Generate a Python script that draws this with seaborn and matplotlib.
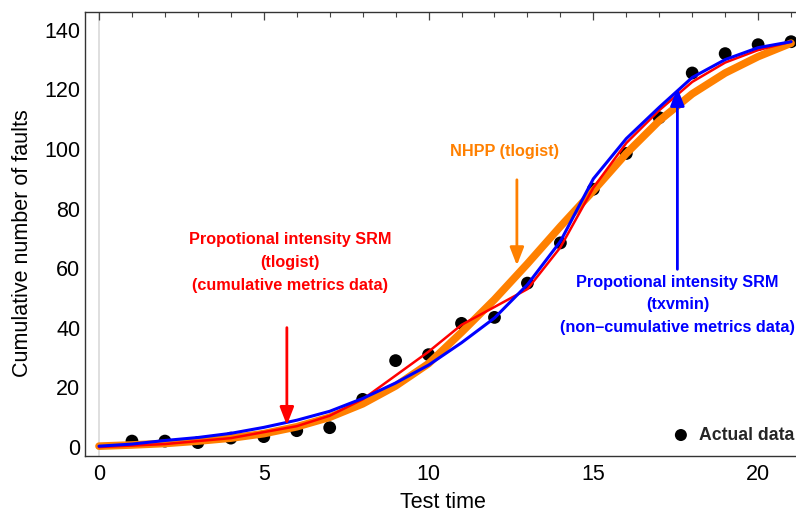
"""
Cumulative number of faults vs test time: actual data and three fitted SRMs.
"""

# Importing required packages
import numpy as np
import pandas as pd
import seaborn as sns
import matplotlib
matplotlib.use("Agg")
import matplotlib.pyplot as plt
from matplotlib.ticker import MultipleLocator

# Data
test_time = list(range(0, 22))
actual_time = list(range(1, 22))
actual_faults = [2, 2, 1.5, 3, 3.5, 5.5, 6.5, 16, 29, 31, 41.5, 43.5, 55, 68.5,
                 86.5, 98.5, 110.5, 125.5, 132, 135, 136]
nhpp_tlogist = [0.3, 0.7, 1.2, 2, 3, 4.5, 6.8, 10, 14.5, 20.5, 28, 38.5, 49.5,
                61.5, 74, 86, 98.5, 109.5, 118.5, 125.5, 131, 135.5]
pi_tlogist = [0, 0.5, 1, 2, 3, 5, 7, 10.5, 16, 24, 32, 41, 47, 53, 67, 87,
              102, 113, 122.5, 129, 133.2, 136]
pi_txvmin = [0.3, 1, 2.2, 3.2, 4.6, 6.6, 9, 12, 16.3, 21.5, 27.5, 35, 43.3,
             54.5, 69, 90, 103.5, 114, 124, 130, 134, 136]

model_names = ["NHPP (tlogist)", "PI tlogist", "PI txvmin"]
model_colors = {"NHPP (tlogist)": "#FF8000", "PI tlogist": "#FF0000", "PI txvmin": "#0000FF"}
model_widths = {"NHPP (tlogist)": 5.5, "PI tlogist": 1.8, "PI txvmin": 2.2}

# Long-format table for seaborn
fits = pd.DataFrame({
    "time": test_time * 3,
    "faults": nhpp_tlogist + pi_tlogist + pi_txvmin,
    "model": np.repeat(model_names, len(test_time)),
})
actual = pd.DataFrame({"time": actual_time, "faults": actual_faults})

sns.set_theme(style="white")
plt.rcParams["font.family"] = ["Liberation Sans", "DejaVu Sans"]

fig = plt.figure(figsize=(7.96, 5.17), dpi=100)
# right edge of the frame falls just outside the image, as in the original
ax = fig.add_axes([0.107, 0.118, 0.898, 0.859])

# light vertical axis line at x = 0
ax.axvline(0, color="#d9d9d9", lw=1.2, zorder=0)

sns.scatterplot(data=actual, x="time", y="faults", color="black", s=85,
                edgecolor="none", ax=ax, zorder=2, label="Actual data")

for name in model_names:
    sub = fits[fits["model"] == name]
    sns.lineplot(data=sub, x="time", y="faults", color=model_colors[name],
                 lw=model_widths[name], ax=ax, zorder=3, legend=False)

# Annotations
arrow_kw = dict(arrowstyle="-|>,head_length=0.9,head_width=0.35", lw=2)
ax.annotate("", xy=(12.68, 60), xytext=(12.68, 90.6),
            arrowprops=dict(color="#FF8000", **arrow_kw))
ax.text(12.3, 99, "NHPP (tlogist)", color="#FF8000", fontsize=11.7,
        fontweight="bold", ha="center", va="center")

ax.annotate("", xy=(5.7, 6.4), xytext=(5.7, 41),
            arrowprops=dict(color="#FF0000", **arrow_kw))
ax.text(5.8, 62, "Propotional intensity SRM\n(tlogist)\n(cumulative metrics data)",
        color="#FF0000", fontsize=11.7, fontweight="bold", ha="center",
        va="center", linespacing=1.65)

ax.annotate("", xy=(17.55, 121.5), xytext=(17.55, 58.7),
            arrowprops=dict(color="#0000FF", **arrow_kw))
ax.text(17.55, 47.7, "Propotional intensity SRM\n(txvmin)\n(non\u2013cumulative metrics data)",
        color="#0000FF", fontsize=11.7, fontweight="bold", ha="center",
        va="center", linespacing=1.65)

# Axes styling (frame with inward ticks)
ax.set_xlim(-0.42, 21.27)
ax.set_ylim(-3, 146)
ax.xaxis.set_major_locator(MultipleLocator(5))
ax.xaxis.set_minor_locator(MultipleLocator(1))
ax.yaxis.set_major_locator(MultipleLocator(20))
ax.yaxis.set_minor_locator(MultipleLocator(5))
ax.tick_params(which="both", direction="in", top=True, right=False,
               color="#444444", labelsize=15.5, labelcolor="black")
ax.tick_params(which="major", length=6, width=0.9)
ax.tick_params(which="minor", length=3.5, width=0.8)
ax.tick_params(axis="x", pad=6)
for s in ax.spines.values():
    s.set_color("#333333")
    s.set_linewidth(1)
ax.set_xlabel("Test time", fontsize=15.5, color="black", labelpad=5)
ax.set_ylabel("Cumulative number of faults", fontsize=15.5, color="black")
ax.yaxis.set_label_coords(-0.073, 0.48)

leg = ax.legend(loc="lower right", bbox_to_anchor=(1.01, 0.0), frameon=False,
                handletextpad=0.05, borderaxespad=0.3,
                prop={"weight": "bold", "size": 12.7})
leg.legend_handles[0].set_sizes([75])

fig.savefig("out.png", dpi=100)
